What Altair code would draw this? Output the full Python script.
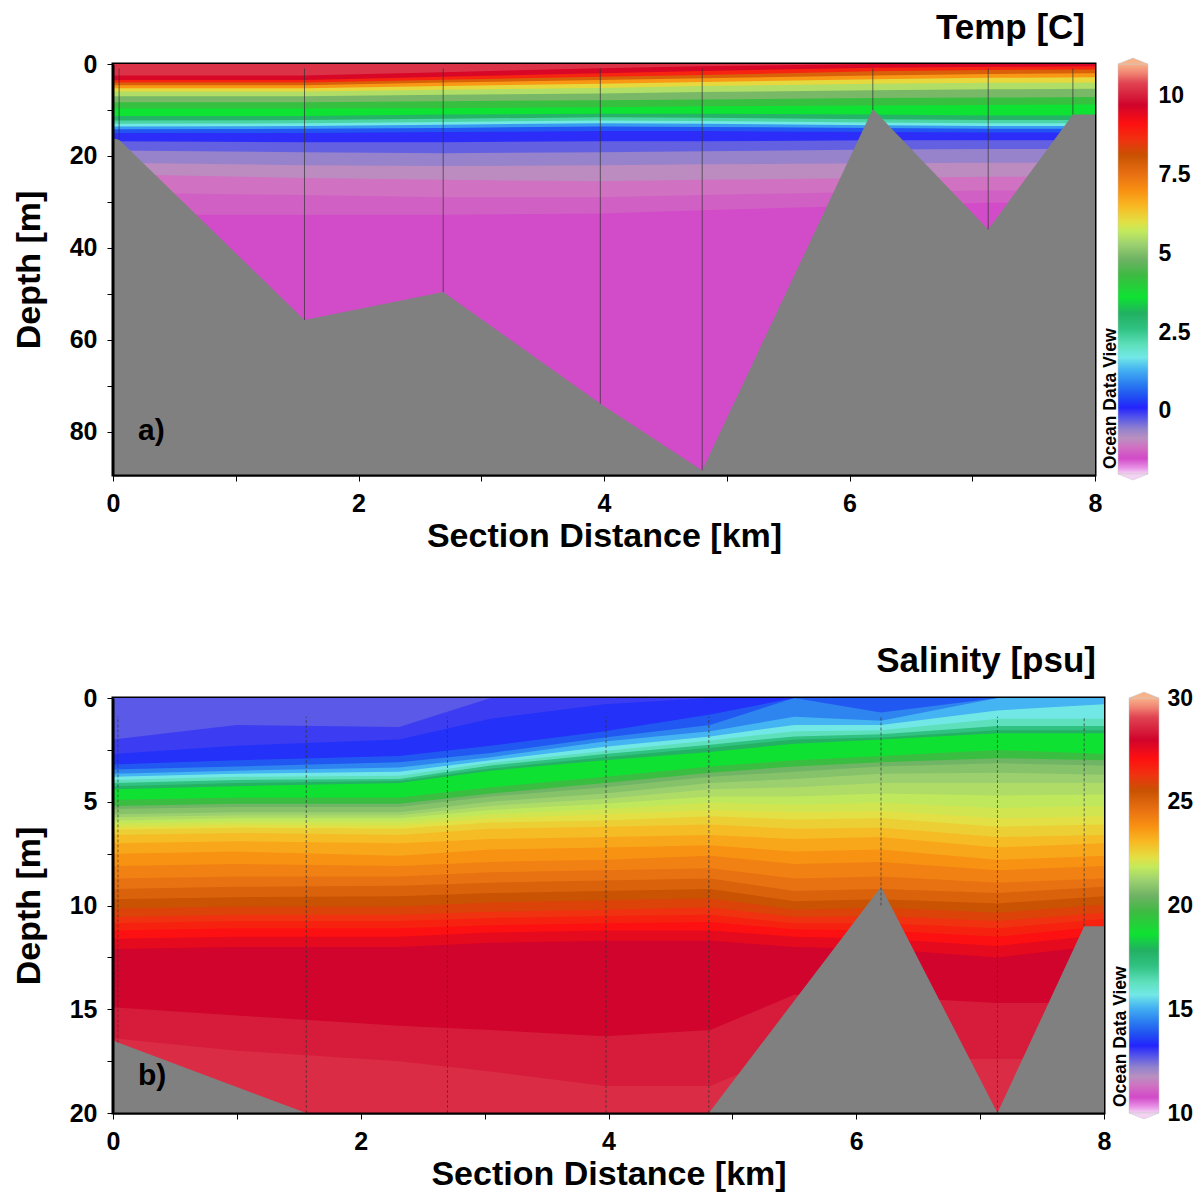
import altair as alt
import pandas as pd

FONT = "Liberation Sans"

# ---------------- colour palette (Ocean Data View default), fraction -> colour ----------------
PAL_F = [0.000, 0.015, 0.038, 0.065, 0.088, 0.110, 0.138, 0.162, 0.190, 0.219, 0.254,
         0.285, 0.315, 0.354, 0.392, 0.431, 0.485, 0.523, 0.562, 0.592, 0.615, 0.654,
         0.692, 0.731, 0.777, 0.815, 0.854, 0.900, 0.954, 0.977, 1.000]
PAL_C = ["#f4d2f4", "#e892e6", "#d24ac8", "#d070c2", "#b890c0", "#9282cc", "#5454ea",
         "#2424fc", "#2050f2", "#2a7cf0", "#44b2f2", "#72e8e6", "#5ee0bc", "#30c282",
         "#22b062", "#0ee232", "#3eba42", "#6eb264", "#9ed270", "#c2ea5c", "#e2e044",
         "#f8b822", "#f89012", "#e87012", "#c85202", "#f03210", "#fe1010", "#d0042c",
         "#e04452", "#f08272", "#f8b28a"]

# ---------------- a) temperature section ----------------
T_COLS = [0.0, 1.56, 2.69, 3.97, 4.80, 6.19, 7.13, 8.0]
T_BAND_VALUES = [10.2, 9.6, 8.8, 7.8, 6.9, 6.1, 5.5, 4.9, 4.2, 3.6, 3.0, 2.3, 1.7, 1.1,
                 0.5, 0.05, -0.3, -0.6, -0.9, -1.15, -1.3, -1.5]
# depth (m) of the boundary below each band, one row per boundary, one entry per column
T_BOUNDS = [
    [2.5, 2.5, 1.8, 0.9, 0.5, 0.0, 0.0, 0.0],
    [3.5, 3.5, 2.8, 2.0, 1.5, 0.8, 0.6, 0.5],
    [4.0, 4.0, 3.4, 2.8, 2.4, 1.6, 1.3, 1.2],
    [4.6, 4.6, 4.0, 3.5, 3.1, 2.5, 2.2, 2.0],
    [5.3, 5.3, 4.8, 4.3, 3.9, 3.3, 3.0, 2.9],
    [6.0, 6.0, 5.6, 5.2, 4.8, 4.3, 4.1, 4.0],
    [7.0, 7.0, 6.7, 6.4, 6.1, 5.7, 5.5, 5.4],
    [8.3, 8.3, 8.1, 7.9, 7.7, 7.4, 7.3, 7.2],
    [9.7, 9.7, 9.6, 9.4, 9.2, 9.0, 8.9, 8.8],
    [11.3, 11.3, 11.0, 10.8, 10.8, 11.0, 11.2, 11.2],
    [12.3, 12.2, 11.9, 11.6, 11.7, 12.0, 12.2, 12.2],
    [13.0, 12.9, 12.6, 12.3, 12.4, 12.7, 12.9, 12.9],
    [13.6, 13.5, 13.2, 12.9, 13.0, 13.3, 13.5, 13.5],
    [14.2, 14.1, 13.9, 13.6, 13.7, 13.9, 14.1, 14.1],
    [15.0, 15.0, 14.8, 14.6, 14.6, 14.8, 14.9, 14.9],
    [16.8, 17.0, 17.0, 16.8, 16.8, 16.6, 16.6, 16.6],
    [18.8, 19.2, 19.4, 19.2, 19.0, 18.6, 18.5, 18.5],
    [21.5, 22.0, 22.2, 22.0, 21.8, 21.6, 21.5, 21.5],
    [24.0, 24.8, 25.2, 25.5, 25.2, 24.8, 24.5, 24.5],
    [28.0, 28.5, 29.0, 29.0, 28.5, 27.8, 27.5, 27.5],
    [32.8, 32.8, 32.8, 32.5, 31.8, 30.8, 30.2, 30.2],
]
T_MAXDEPTH = 89.4
T_STATION_X = [0.05, 1.56, 2.69, 3.97, 4.80, 6.19, 7.13, 7.82]
T_STATION_DEPTH = [16.5, 55.7, 49.6, 73.9, 88.4, 10.0, 36.0, 11.0]
T_BATHY_X = [0.0, 0.05, 1.56, 2.69, 3.97, 4.80, 6.19, 7.13, 7.82, 8.0]
T_BATHY_D = [16.2, 16.5, 55.7, 49.6, 73.9, 88.4, 9.8, 36.0, 11.0, 11.0]
T_CB_RANGE = [-2.0, 11.0]
T_CB_TICKS = [0, 2.5, 5, 7.5, 10]

# ---------------- b) salinity section ----------------
S_COLS = [0.0, 1.0, 2.31, 3.05, 3.97, 4.82, 5.5, 6.2, 7.14, 8.0]
S_BAND_VALUES = [12.7, 13.0, 13.4, 13.9, 14.5, 15.1, 15.7, 16.3, 17.1, 17.8, 18.6, 19.6,
                 20.5, 20.85, 21.2, 21.5, 21.8, 22.05, 22.3, 22.65, 23.0, 23.4, 23.8,
                 24.2, 24.6, 25.05, 25.5, 25.9, 26.3, 26.7, 27.1, 27.55, 28.0, 28.4, 28.7]
# one profile per column: depth (m) of the boundary below each band
S_PROFILES = [
    [2.0, 2.7, 3.2, 3.45, 3.65, 3.8, 3.95, 4.1, 4.25, 4.4, 4.9, 5.2,
     5.35, 5.6, 5.75, 5.9, 6.05, 6.2, 6.35, 6.6, 7.0, 7.5, 8.1, 8.7, 9.2, 9.7, 10.15,
     10.55, 10.85, 11.2, 11.6, 12.1, 14.9, 16.4],
    [1.3, 2.3, 3.0, 3.3, 3.5, 3.65, 3.8, 3.95, 4.1, 4.25, 4.8, 5.1,
     5.25, 5.5, 5.65, 5.8, 5.95, 6.1, 6.25, 6.5, 6.9, 7.4, 8.0, 8.6, 9.1, 9.6, 10.05,
     10.45, 10.75, 11.1, 11.5, 12.0, 15.3, 17.0],
    [1.4, 2.0, 2.8, 3.1, 3.35, 3.55, 3.75, 3.9, 4.0, 4.1, 4.8, 5.1,
     5.25, 5.5, 5.65, 5.8, 5.95, 6.15, 6.3, 6.6, 7.0, 7.6, 8.1, 8.6, 9.05, 9.55, 10.05,
     10.45, 10.75, 11.1, 11.5, 12.0, 15.8, 17.5],
    [0.0, 1.0, 2.3, 2.65, 2.85, 3.0, 3.12, 3.25, 3.4, 3.5, 4.3, 4.6,
     4.75, 5.0, 5.2, 5.4, 5.6, 5.8, 6.0, 6.3, 6.8, 7.3, 7.9, 8.4, 8.9, 9.4, 9.85,
     10.3, 10.6, 10.95, 11.3, 11.8, 16.0, 18.0],
    [0.0, 0.3, 1.6, 1.9, 2.1, 2.35, 2.55, 2.7, 2.85, 3.0, 3.8, 4.1,
     4.3, 4.6, 4.85, 5.1, 5.35, 5.6, 5.9, 6.2, 6.7, 7.2, 7.8, 8.3, 8.8, 9.3, 9.75,
     10.2, 10.5, 10.85, 11.2, 11.7, 16.3, 18.7],
    [0.0, 0.0, 0.8, 1.3, 1.6, 1.85, 2.05, 2.25, 2.4, 2.6, 3.3, 3.6,
     3.8, 4.1, 4.4, 4.75, 5.05, 5.4, 5.7, 6.1, 6.6, 7.1, 7.6, 8.2, 8.7, 9.2, 9.65,
     10.1, 10.45, 10.8, 11.2, 11.7, 16.0, 18.7],
    [0.0, 0.0, 0.0, 0.0, 0.9, 1.3, 1.6, 1.85, 2.0, 2.2, 3.0, 3.3,
     3.55, 3.9, 4.3, 4.75, 5.15, 5.5, 5.85, 6.3, 6.8, 7.4, 8.0, 8.7, 9.3, 9.8, 10.2,
     10.55, 10.85, 11.15, 11.5, 12.0, 14.3, 17.0],
    [0.0, 0.0, 0.0, 0.7, 1.1, 1.3, 1.55, 1.75, 1.9, 2.0, 2.8, 3.1,
     3.3, 3.65, 4.1, 4.6, 5.05, 5.45, 5.8, 6.25, 6.7, 7.3, 7.9, 8.6, 9.2, 9.7, 10.1,
     10.5, 10.85, 11.2, 11.6, 12.1, 14.4, 17.4],
    [0.0, 0.0, 0.0, 0.0, 0.0, 0.6, 1.0, 1.35, 1.55, 1.7, 2.5, 2.9,
     3.15, 3.6, 4.1, 4.7, 5.3, 5.8, 6.2, 6.7, 7.2, 7.8, 8.3, 8.9, 9.4, 9.9, 10.35,
     10.75, 11.1, 11.5, 11.95, 12.5, 14.7, 17.4],
    [0.0, 0.0, 0.0, 0.0, 0.0, 0.3, 1.0, 1.35, 1.55, 1.7, 2.7, 3.0,
     3.25, 3.7, 4.1, 4.65, 5.2, 5.7, 6.1, 6.6, 7.0, 7.6, 8.1, 8.7, 9.1, 9.55, 9.95,
     10.35, 10.65, 11.0, 11.4, 11.9, 14.7, 17.4],
]
S_MAXDEPTH = 20.0
S_STATION_X = [0.04, 1.56, 2.70, 3.98, 4.81, 6.20, 7.14, 7.84]
S_STATION_DEPTH = [16.6, 20.0, 20.0, 20.0, 20.0, 10.0, 20.0, 11.0]
S_BATHY_X = [0.0, 0.04, 1.56, 2.70, 3.98, 4.81, 6.20, 7.14, 7.84, 8.0]
S_BATHY_D = [16.5, 16.6, 20.0, 20.0, 20.0, 20.0, 9.1, 20.0, 11.0, 11.0]
S_CB_RANGE = [10.0, 30.0]
S_CB_TICKS = [10, 15, 20, 25, 30]

X_TICKS = [0, 1, 2, 3, 4, 5, 6, 7, 8]
T_Y_TICKS = [0, 10, 20, 30, 40, 50, 60, 70, 80]
S_Y_TICKS = [0, 2.5, 5, 7.5, 10, 12.5, 15, 17.5, 20]


def band_table(cols, values, profiles, maxd):
    rows = []
    for i, v in enumerate(values):
        for j, x in enumerate(cols):
            d = profiles[j][i] if i < len(profiles[j]) else maxd
            rows.append({"band": i, "val": v, "x": x, "depth": d})
    return pd.DataFrame(rows)


def color_scale(lo, hi):
    return alt.Scale(domain=[lo + f * (hi - lo) for f in PAL_F], range=PAL_C,
                     interpolate="rgb", clamp=True)


def section(bands, nbands, bathy, stations, maxd, yticks, ymod, cs, width, height,
            title, title_dx, title_off, label, label_y, dash, line_top):
    xenc = alt.X("x:Q", scale=alt.Scale(domain=[0, 8], nice=False, zero=False),
                 title="Section Distance [km]",
                 axis=alt.Axis(values=X_TICKS,
                               labelExpr="datum.value % 2 == 0 ? '' + datum.value : ''",
                               tickSize=6, tickColor="black", tickWidth=1,
                               domainColor="black", domainWidth=2, labelPadding=10,
                               titlePadding=3, grid=False, labelFlush=False,
                               labelOverlap=False, zindex=1))
    yenc = alt.Y("depth:Q", scale=alt.Scale(domain=[0, maxd], reverse=True, nice=False,
                                            zero=False),
                 title="Depth [m]", stack=None,
                 axis=alt.Axis(values=yticks,
                               labelExpr=f"datum.value % {ymod} == 0 ? '' + datum.value : ''",
                               tickSize=6, tickColor="black", tickWidth=1,
                               domainColor="black", domainWidth=2, labelPadding=10,
                               titlePadding=23, grid=False, labelFlush=False,
                               labelOverlap=False, zindex=1))
    cenc = alt.Color("val:Q", scale=cs, legend=None)
    layers = []
    for i in reversed(range(nbands)):
        layers.append(
            alt.Chart(bands).transform_filter(alt.datum.band == i)
            .mark_area(orient="vertical", interpolate="linear")
            .encode(x=xenc, y=yenc, y2=alt.datum(0), color=cenc)
        )
    layers.append(
        alt.Chart(bathy).mark_area(orient="vertical", color="#808080")
        .encode(x=xenc, y=yenc, y2=alt.datum(maxd))
    )
    rule_kw = dict(color="#333333", strokeWidth=1, opacity=0.7)
    if dash:
        rule_kw["strokeDash"] = [3, 2]
    layers.append(
        alt.Chart(stations).mark_rule(**rule_kw)
        .encode(x=xenc, y=yenc, y2=alt.datum(line_top))
    )
    layers.append(
        alt.Chart(pd.DataFrame({"t": [label]}))
        .mark_text(font=FONT, fontSize=30, fontWeight="bold", align="left",
                   baseline="alphabetic", color="black")
        .encode(text="t:N", x=alt.value(25), y=alt.value(label_y))
    )
    return alt.layer(*layers).properties(
        width=width, height=height,
        title=alt.TitleParams(title, anchor="end", frame="group", fontSize=35,
                              fontWeight="bold", font=FONT, color="black",
                              baseline="alphabetic", offset=title_off, dx=title_dx,
                              dy=44),
        view=alt.ViewBackground(stroke="black", strokeWidth=3),
    )


def colorbar(rng, ticks, height, text_x, text_y, lab_pad):
    grad = alt.LinearGradient(
        gradient="linear", x1=0, x2=0, y1=1, y2=0,
        stops=[alt.GradientStop(offset=f, color=c) for f, c in zip(PAL_F, PAL_C)])
    cbdf = pd.DataFrame({"lo": [rng[0]], "hi": [rng[1]]})
    yax = alt.Axis(orient="right", values=ticks, labelExpr="'' + datum.value",
                   domain=False, ticks=False, labelPadding=lab_pad, labelFontSize=23,
                   labelFlush=False, labelOverlap=False, grid=False, title=None)
    ysc = alt.Scale(domain=rng, nice=False, zero=False)
    bar = alt.Chart(cbdf).mark_rect(fill=grad, stroke="#c8c8c8", strokeWidth=0.5).encode(
        y=alt.Y("hi:Q", scale=ysc, axis=yax), y2="lo:Q")
    cap_top = alt.Chart(cbdf).mark_point(
        shape="M -1 0 L 0 -0.4 L 1 0 Z", size=900, filled=True, fill=PAL_C[-1],
        stroke="#c8c8c8", strokeWidth=0.5, opacity=1).encode(
        x=alt.value(15), y=alt.Y("hi:Q", scale=ysc, axis=yax))
    cap_bot = alt.Chart(cbdf).mark_point(
        shape="M -1 0 L 0 0.4 L 1 0 Z", size=900, filled=True, fill=PAL_C[0],
        stroke="#c8c8c8", strokeWidth=0.5, opacity=1).encode(
        x=alt.value(15), y=alt.Y("lo:Q", scale=ysc, axis=yax))
    odv = alt.Chart(pd.DataFrame({"t": ["Ocean Data View"]})).mark_text(
        font=FONT, fontSize=17.5, fontWeight="bold", angle=270, align="left",
        baseline="middle", color="black").encode(
        text="t:N", x=alt.value(text_x), y=alt.value(text_y))
    return alt.layer(bar, cap_top, cap_bot, odv).properties(width=30, height=height)


t_bands = band_table(T_COLS, T_BAND_VALUES, [list(c) for c in zip(*T_BOUNDS)], T_MAXDEPTH)
s_bands = band_table(S_COLS, S_BAND_VALUES, S_PROFILES, S_MAXDEPTH)

t_main = section(t_bands, len(T_BAND_VALUES),
                 pd.DataFrame({"x": T_BATHY_X, "depth": T_BATHY_D}),
                 pd.DataFrame({"x": T_STATION_X, "depth": T_STATION_DEPTH}),
                 T_MAXDEPTH, T_Y_TICKS, 20, color_scale(*T_CB_RANGE), 982, 411,
                 "Temp [C]", -10, 22, "a)", 376, False, 1.0)
s_main = section(s_bands, len(S_BAND_VALUES),
                 pd.DataFrame({"x": S_BATHY_X, "depth": S_BATHY_D}),
                 pd.DataFrame({"x": S_STATION_X, "depth": S_STATION_DEPTH}),
                 S_MAXDEPTH, S_Y_TICKS, 5, color_scale(*S_CB_RANGE), 991, 415,
                 "Salinity [psu]", -8, 23, "b)", 387, True, 0.9)

t_cb = colorbar(T_CB_RANGE, T_CB_TICKS, 410, -7, 405, 10)
s_cb = colorbar(S_CB_RANGE, S_CB_TICKS, 415, -8, 409, 8)

top = alt.hconcat(t_main, t_cb, spacing=23, bounds="flush").resolve_scale(
    y="independent", x="independent", color="independent")
bottom = alt.hconcat(s_main, s_cb, spacing=25, bounds="flush").resolve_scale(
    y="independent", x="independent", color="independent")

chart = alt.vconcat(top, bottom, spacing=87).resolve_scale(
    y="independent", x="independent", color="independent"
).properties(
    padding={"left": 2, "top": 1, "right": 0, "bottom": 0}
).configure_view(strokeWidth=0).configure_axis(
    labelFont=FONT, labelFontSize=25, labelFontWeight="bold", labelColor="black",
    titleFont=FONT, titleFontSize=34, titleFontWeight="bold", titleColor="black",
)

chart.save("out.html", embed_options={"renderer": "svg", "actions": False})
